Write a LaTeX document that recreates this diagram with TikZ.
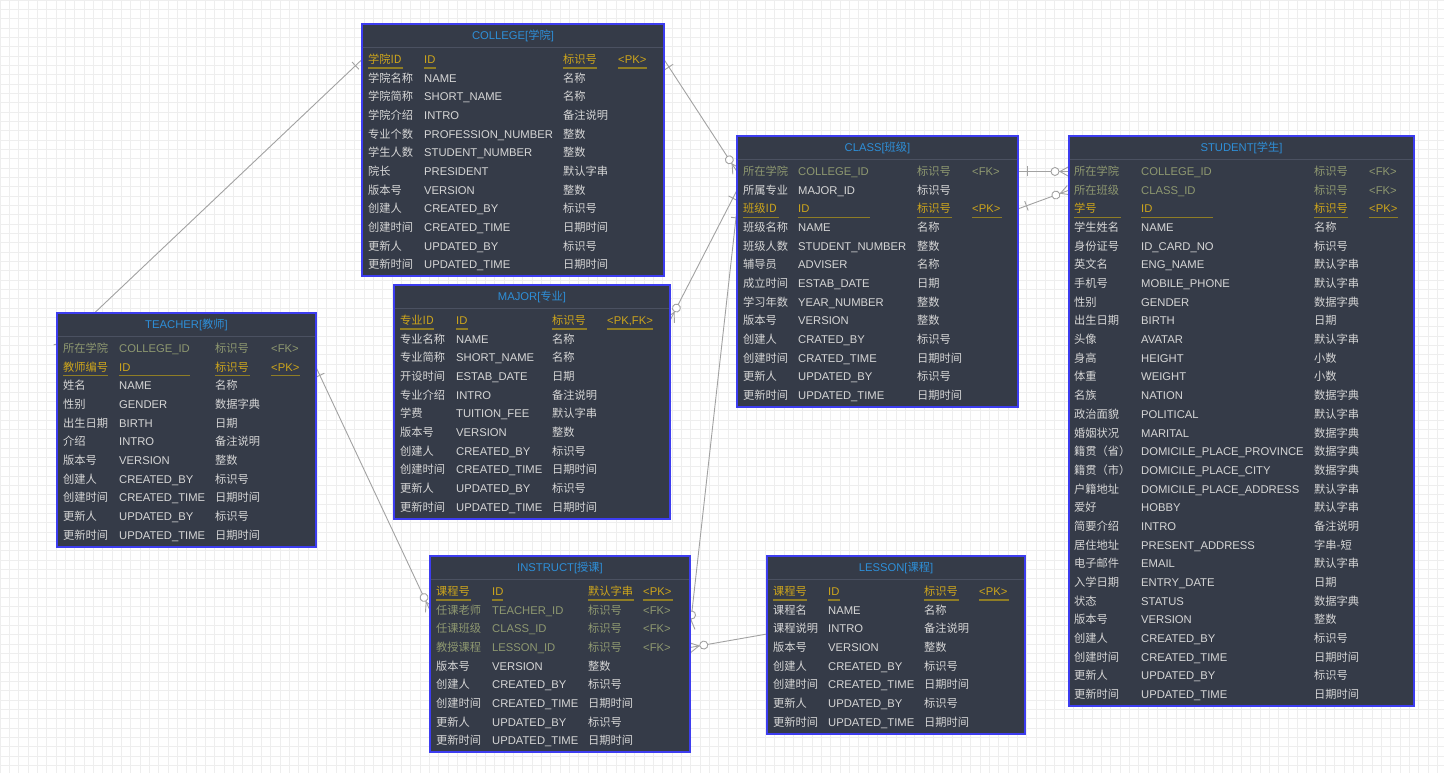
\documentclass[tikz,border=0pt]{standalone}
\usepackage{fontspec}
\setmainfont{Liberation Sans}
\newfontfamily\cjk{Noto Sans CJK SC}
\usetikzlibrary{decorations.markings}
\pgfdeclarelayer{bg}
\pgfsetlayers{bg,main}
\definecolor{tblfill}{HTML}{353B48}
\definecolor{tblborder}{HTML}{3D3DF0}
\definecolor{sepc}{HTML}{4B5161}
\definecolor{ttlc}{HTML}{2E8FD8}
\definecolor{txtc}{HTML}{D6D6D6}
\definecolor{fkc}{HTML}{8E9870}
\definecolor{pkc}{HTML}{CDA51C}
\definecolor{pkul}{HTML}{8F7D25}
\definecolor{gridc}{HTML}{EEEEEE}
\definecolor{linkc}{HTML}{A2A2A2}
\newcounter{cellc}
\tikzset{
 tbl/.style={draw=tblborder, line width=1.3pt, fill=tblfill, inner sep=0pt, outer sep=0pt, anchor=north west},
 ttl/.style={text=ttlc, inner sep=0pt, font=\fontsize{11.25}{13}\selectfont},
 cell/.style={anchor=base west, inner sep=0pt, text=txtc, font=\fontsize{11.25}{13}\selectfont},
 fkrow/.style={text=fkc},
 pkrow/.style={text=pkc},
 nrow/.style={},
 pkline/.style={draw=pkul, line width=1.6pt},
 sepline/.style={draw=sepc, line width=0.8pt},
 link/.style={draw=linkc, line width=0.9pt},
 onemark/.style={postaction={decorate, decoration={markings, mark=at position 0 with {\draw[link] (9pt,-5pt) -- (9pt,5pt);}}}},
 manymark/.style={postaction={decorate, decoration={markings, mark=at position 1 with {\draw[link] (-9pt,0pt) -- (0pt,5pt) (-9pt,0pt) -- (0pt,-5pt); \draw[link, fill=white] (-14pt,0pt) circle[radius=4pt];}}}},
}
\newcommand\setcols[4]{\def\ca{#1}\def\cb{#2}\def\cc{#3}\def\cd{#4}}
\newcommand\ertable[7]{%
 \pgfmathsetmacro\tw{#4-#2}\pgfmathsetmacro\th{#5-#3}%
 \node[tbl, minimum width=\tw pt, minimum height=\th pt] (#1) at (#2,#3) {};
 \draw[sepline] (#2+0.7,#3+23) -- (#4-0.7,#3+23);
 \node[ttl] (#1-title) at ({(#2+#4)/2},#3+12) {#6[{\cjk #7}]};
 \pgfmathsetmacro\tfirst{#3+35.5}%
 \def\tname{#1}%
}
\newcommand\errow[6]{%
 \pgfmathsetmacro\ry{\tfirst+#2*18.68+4}%
 \stepcounter{cellc}\node[cell,#1] (\tname-\the\value{cellc}) at (\ca,\ry) {\cjk #3};
 \stepcounter{cellc}\node[cell,#1] (\tname-\the\value{cellc}) at (\cb,\ry) {#4};
 \stepcounter{cellc}\node[cell,#1] (\tname-\the\value{cellc}) at (\cc,\ry) {\cjk #5};
 \if\relax\detokenize{#6}\relax\else
 \stepcounter{cellc}\node[cell,#1] (\tname-\the\value{cellc}) at (\cd,\ry) {#6};\fi
}
\newcommand\pkul[5]{%
 \pgfmathsetmacro\uy{\tfirst+#1*18.68+8.5}%
 \draw[pkline] (\ca,\uy) -- ++(#2,0);
 \draw[pkline] (\cb,\uy) -- ++(#3,0);
 \draw[pkline] (\cc,\uy) -- ++(#4,0);
 \draw[pkline] (\cd,\uy) -- ++(#5,0);
}
\begin{document}
\begin{tikzpicture}[x=1pt,y=-1pt]
\useasboundingbox (0,0) rectangle (1444,773);
\begin{pgfonlayer}{bg}
\fill[white] (0,0) rectangle (1444,773);
\draw[gridc, line width=0.7pt, step=9.333pt] (0,0) grid (1444,773);
\end{pgfonlayer}

% COLLEGE
\setcols{368}{424}{563}{618}
\ertable{college}{362}{24}{664}{276}{COLLEGE}{学院}
\pkul{0}{35}{12}{34}{29}
\errow{pkrow}{0}{学院ID}{ID}{标识号}{<PK>}
\foreach \ta/\tb/\tc [count=\i from 1] in {学院名称/NAME/名称, 学院简称/SHORT\_NAME/名称, 学院介绍/INTRO/备注说明, 专业个数/PROFESSION\_NUMBER/整数, 学生人数/STUDENT\_NUMBER/整数, 院长/PRESIDENT/默认字串, 版本号/VERSION/整数, 创建人/CREATED\_BY/标识号, 创建时间/CREATED\_TIME/日期时间, 更新人/UPDATED\_BY/标识号, 更新时间/UPDATED\_TIME/日期时间}{\errow{nrow}{\i}{\ta}{\tb}{\tc}{}}

% CLASS
\setcols{743}{798}{917}{972}
\ertable{class}{737}{136}{1018}{407}{CLASS}{班级}
\errow{fkrow}{0}{所在学院}{COLLEGE\_ID}{标识号}{<FK>}
\errow{nrow}{1}{所属专业}{MAJOR\_ID}{标识号}{}
\pkul{2}{36}{72}{35}{30}
\errow{pkrow}{2}{班级ID}{ID}{标识号}{<PK>}
\foreach \ta/\tb/\tc [count=\i from 3] in {班级名称/NAME/名称, 班级人数/STUDENT\_NUMBER/整数, 辅导员/ADVISER/名称, 成立时间/ESTAB\_DATE/日期, 学习年数/YEAR\_NUMBER/整数, 版本号/VERSION/整数, 创建人/CRATED\_BY/标识号, 创建时间/CRATED\_TIME/日期时间, 更新人/UPDATED\_BY/标识号, 更新时间/UPDATED\_TIME/日期时间}{\errow{nrow}{\i}{\ta}{\tb}{\tc}{}}

% STUDENT
\setcols{1074}{1141}{1314}{1369}
\ertable{student}{1069}{136}{1414}{706}{STUDENT}{学生}
\errow{fkrow}{0}{所在学院}{COLLEGE\_ID}{标识号}{<FK>}
\errow{fkrow}{1}{所在班级}{CLASS\_ID}{标识号}{<FK>}
\pkul{2}{47}{72}{34}{29}
\errow{pkrow}{2}{学号}{ID}{标识号}{<PK>}
\foreach \ta/\tb/\tc [count=\i from 3] in {学生姓名/NAME/名称, 身份证号/ID\_CARD\_NO/标识号, 英文名/ENG\_NAME/默认字串, 手机号/MOBILE\_PHONE/默认字串, 性别/GENDER/数据字典, 出生日期/BIRTH/日期, 头像/AVATAR/默认字串, 身高/HEIGHT/小数, 体重/WEIGHT/小数, 名族/NATION/数据字典, 政治面貌/POLITICAL/默认字串, 婚姻状况/MARITAL/数据字典, 籍贯（省）/DOMICILE\_PLACE\_PROVINCE/数据字典, 籍贯（市）/DOMICILE\_PLACE\_CITY/数据字典, 户籍地址/DOMICILE\_PLACE\_ADDRESS/默认字串, 爱好/HOBBY/默认字串, 简要介绍/INTRO/备注说明, 居住地址/PRESENT\_ADDRESS/字串-短, 电子邮件/EMAIL/默认字串, 入学日期/ENTRY\_DATE/日期, 状态/STATUS/数据字典, 版本号/VERSION/整数, 创建人/CREATED\_BY/标识号, 创建时间/CREATED\_TIME/日期时间, 更新人/UPDATED\_BY/标识号, 更新时间/UPDATED\_TIME/日期时间}{\errow{nrow}{\i}{\ta}{\tb}{\tc}{}}

% TEACHER
\setcols{63}{119}{215}{271}
\ertable{teacher}{57}{313}{316}{547}{TEACHER}{教师}
\errow{fkrow}{0}{所在学院}{COLLEGE\_ID}{标识号}{<FK>}
\pkul{1}{45}{71}{35}{29}
\errow{pkrow}{1}{教师编号}{ID}{标识号}{<PK>}
\foreach \ta/\tb/\tc [count=\i from 2] in {姓名/NAME/名称, 性别/GENDER/数据字典, 出生日期/BIRTH/日期, 介绍/INTRO/备注说明, 版本号/VERSION/整数, 创建人/CREATED\_BY/标识号, 创建时间/CREATED\_TIME/日期时间, 更新人/UPDATED\_BY/标识号, 更新时间/UPDATED\_TIME/日期时间}{\errow{nrow}{\i}{\ta}{\tb}{\tc}{}}

% MAJOR
\setcols{400}{456}{552}{607}
\ertable{major}{394}{285}{670}{519}{MAJOR}{专业}
\pkul{0}{34}{12}{35}{46}
\errow{pkrow}{0}{专业ID}{ID}{标识号}{<PK,FK>}
\foreach \ta/\tb/\tc [count=\i from 1] in {专业名称/NAME/名称, 专业简称/SHORT\_NAME/名称, 开设时间/ESTAB\_DATE/日期, 专业介绍/INTRO/备注说明, 学费/TUITION\_FEE/默认字串, 版本号/VERSION/整数, 创建人/CREATED\_BY/标识号, 创建时间/CREATED\_TIME/日期时间, 更新人/UPDATED\_BY/标识号, 更新时间/UPDATED\_TIME/日期时间}{\errow{nrow}{\i}{\ta}{\tb}{\tc}{}}

% INSTRUCT
\setcols{436}{492}{588}{643}
\ertable{instruct}{430}{556}{690}{752}{INSTRUCT}{授课}
\pkul{0}{35}{11}{46}{30}
\errow{pkrow}{0}{课程号}{ID}{默认字串}{<PK>}
\errow{fkrow}{1}{任课老师}{TEACHER\_ID}{标识号}{<FK>}
\errow{fkrow}{2}{任课班级}{CLASS\_ID}{标识号}{<FK>}
\errow{fkrow}{3}{教授课程}{LESSON\_ID}{标识号}{<FK>}
\foreach \ta/\tb/\tc [count=\i from 4] in {版本号/VERSION/整数, 创建人/CREATED\_BY/标识号, 创建时间/CREATED\_TIME/日期时间, 更新人/UPDATED\_BY/标识号, 更新时间/UPDATED\_TIME/日期时间}{\errow{nrow}{\i}{\ta}{\tb}{\tc}{}}

% LESSON
\setcols{773}{828}{924}{979}
\ertable{lesson}{767}{556}{1025}{734}{LESSON}{课程}
\pkul{0}{34}{12}{35}{30}
\errow{pkrow}{0}{课程号}{ID}{标识号}{<PK>}
\foreach \ta/\tb/\tc [count=\i from 1] in {课程名/NAME/名称, 课程说明/INTRO/备注说明, 版本号/VERSION/整数, 创建人/CREATED\_BY/标识号, 创建时间/CREATED\_TIME/日期时间, 更新人/UPDATED\_BY/标识号, 更新时间/UPDATED\_TIME/日期时间}{\errow{nrow}{\i}{\ta}{\tb}{\tc}{}}

% connection points
\coordinate (col-pk-w) at (362,59.5);
\coordinate (col-pk-e) at (664,59.5);
\coordinate (cls-fk-w) at (737,171.5);
\coordinate (cls-fk-e) at (1018,171.5);
\coordinate (cls-mj-w) at (737,190.2);
\coordinate (cls-pk-w) at (737,208.9);
\coordinate (cls-pk-e) at (1018,208.9);
\coordinate (stu-col-w) at (1069,171.5);
\coordinate (stu-cls-w) at (1069,190.2);
\coordinate (tch-fk-w) at (57,348.5);
\coordinate (tch-pk-e) at (316,367.2);
\coordinate (maj-pk-e) at (670,320.5);
\coordinate (ins-tch-w) at (430,610.2);
\coordinate (ins-cls-e) at (690,628.9);
\coordinate (ins-les-e) at (690,647.5);
\coordinate (les-w) at (767,634);

\begin{pgfonlayer}{bg}
\draw[link,onemark,manymark] (col-pk-w) -- (tch-fk-w);
\draw[link,onemark,manymark] (col-pk-e) -- (cls-fk-w);
\draw[link,onemark,manymark] (cls-fk-e) -- (stu-col-w);
\draw[link,onemark,manymark] (cls-pk-e) -- (stu-cls-w);
\draw[link,onemark,manymark] (cls-mj-w) -- (maj-pk-e);
\draw[link,onemark,manymark] (cls-pk-w) -- (ins-cls-e);
\draw[link,onemark,manymark] (tch-pk-e) -- (ins-tch-w);
\draw[link,manymark] (les-w) -- (ins-les-e);
\end{pgfonlayer}
\end{tikzpicture}
\end{document}
